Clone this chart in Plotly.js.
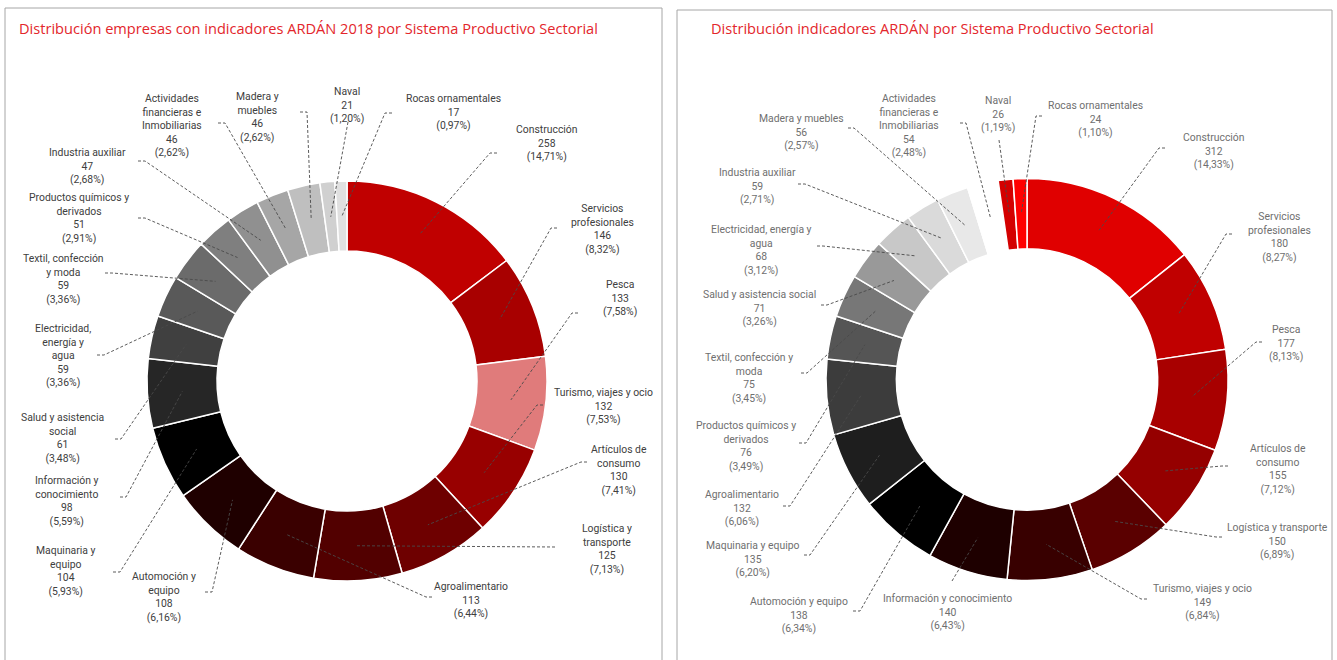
<!DOCTYPE html>
<html><head><meta charset="utf-8">
<script src="https://cdn.plot.ly/plotly-3.0.1.min.js"></script>
<style>html,body{margin:0;padding:0;background:#fff;} #chart{width:1337px;height:660px;}</style>
</head><body><div id="chart"></div>
<script>
// ---------------- DATA ----------------
const titleLeft = "Distribución empresas con indicadores ARDÁN 2018 por Sistema Productivo Sectorial";
const titleRight = "Distribución indicadores ARDÁN por Sistema Productivo Sectorial";

const sectorsLeft = ["Construcción","Servicios profesionales","Pesca","Turismo, viajes y ocio","Artículos de consumo","Logística y transporte","Agroalimentario","Automoción y equipo","Maquinaria y equipo","Información y conocimiento","Salud y asistencia social","Electricidad, energía y agua","Textil, confección y moda","Productos químicos y derivados","Industria auxiliar","Actividades financieras e Inmobiliarias","Madera y muebles","Naval","Rocas ornamentales"];
const valuesLeft = [258,146,133,132,130,125,113,108,104,98,61,59,59,51,47,46,46,21,17];
const labelTextLeft = ["Construcción","Servicios<br>profesionales","Pesca","Turismo, viajes y ocio","Artículos de<br>consumo","Logística y<br>transporte","Agroalimentario","Automoción y<br>equipo","Maquinaria y<br>equipo","Información y<br>conocimiento","Salud y asistencia<br>social","Electricidad,<br>energía y<br>agua","Textil, confección<br>y moda","Productos químicos y<br>derivados","Industria auxiliar","Actividades<br>financieras e<br>Inmobiliarias","Madera y<br>muebles","Naval","Rocas ornamentales"];

const sectorsRight = ["Construcción","Servicios profesionales","Pesca","Artículos de consumo","Logística y transporte","Turismo, viajes y ocio","Información y conocimiento","Automoción y equipo","Maquinaria y equipo","Agroalimentario","Productos químicos y derivados","Textil, confección y moda","Salud y asistencia social","Electricidad, energía y agua","Industria auxiliar","Madera y muebles","Actividades financieras e Inmobiliarias","Naval","Rocas ornamentales"];
const valuesRight = [312,180,177,155,150,149,140,138,135,132,76,75,71,68,59,56,54,26,24];
const labelTextRight = ["Construcción","Servicios<br>profesionales","Pesca","Artículos de<br>consumo","Logística y transporte","Turismo, viajes y ocio","Información y conocimiento","Automoción y equipo","Maquinaria y equipo","Agroalimentario","Productos químicos y<br>derivados","Textil, confección y<br>moda","Salud y asistencia social","Electricidad, energía y<br>agua","Industria auxiliar","Madera y muebles","Actividades<br>financieras e<br>Inmobiliarias","Naval","Rocas ornamentales"];

// ---------------- STYLE / LAYOUT ----------------
const colorsLeft = ["#c00000","#a80000","#e07b7b","#980000","#6e0000","#520000","#3a0000","#1f0000","#000000","#262626","#404040","#595959","#6b6b6b","#7f7f7f","#909090","#a6a6a6","#bfbfbf","#d0d0d0","#e0e0e0"];
const colorsRight = ["#e00000","#c00000","#a80000","#950000","#5a0000","#380000","#1e0000","#000000","#1e1e1e","#3c3c3c","#555555","#777777","#999999","#c8c8c8","#dadada","#e8e8e8","#ffffff","#d40000","#ff0000"];

// label block: [centerX, firstLineY] ; anchor: [x, y, horizontal segment length]
const labelPosLeft = [[547,128],[602,208],[620,283],[603,392],[619,448],[607,527],[471,585],[164,575],[66,549],[67,479],[63,416],[63,327],[63,257],[79,196],[87,151],[172,97],[257,95],[347,91],[453,98]];
const anchorLeft = [[497,153,7],[557,228,6],[578,313,6],[543,405,6],[587,462,6],[555,547,0],[432,597,6],[205,592,7],[113,572,7],[120,497,6],[115,439,6],[97,355,7],[105,273,7],[138,218,7],[138,161,7],[218,123,7],[300,112,7],[348,122,0],[392,113,7]];
const labelPosRight = [[1214,137],[1279,215],[1286,328],[1278,447],[1277,526],[1202,587],[948,597],[799,600],[753,544],[742,493],[746,424],[749,356],[759,293],[761,228],[757,171],[801,117],[909,98],[998,100],[1095,104]];
const anchorRight = [[1165,148,6],[1232,234,6],[1262,342,6],[1228,466,6],[1222,537,6],[1147,599,6],[952,581,0],[853,611,7],[804,555,6],[783,506,7],[799,443,7],[801,373,6],[821,305,6],[817,246,6],[798,184,7],[848,128,6],[960,123,6],[999,140,0],[1042,116,6]];

const W = 1337, H = 660, HOLE = 0.65;
const px = x => x / W, py = y => 1 - y / H;

function pct(v, tot){ return (v / tot * 100).toFixed(2).replace('.', ','); }

const data = [], shapes = [], annotations = [];

function addDonut(values, sectors, labelText, colors, labelPos, anchors, cx, cy, R, textColor){
  data.push({
    type: 'pie', values: values, labels: sectors, sort: false, direction: 'clockwise', rotation: 0,
    hole: HOLE, textinfo: 'none', showlegend: false,
    hovertemplate: '%{label}<br>%{value} (%{percent})<extra></extra>',
    marker: {colors: colors, line: {color: '#ffffff', width: 1.5}},
    domain: {x: [px(cx - R), px(cx + R)], y: [py(cy + R), py(cy - R)]}
  });
  const tot = values.reduce((a, b) => a + b, 0);
  const rm = R * (1 + HOLE) / 2;
  let cum = 0;
  values.forEach((v, i) => {
    const th = 2 * Math.PI * (cum + v / 2) / tot;
    cum += v;
    const tx = cx + rm * Math.sin(th), ty = cy - rm * Math.cos(th);
    const [ax, ay, hl] = anchors[i];
    const bx = ax + Math.sign(tx - ax) * hl;
    shapes.push({type: 'path', xref: 'paper', yref: 'paper',
      path: `M ${px(ax)},${py(ay)} L ${px(bx)},${py(ay)} L ${px(tx)},${py(ty)}`,
      line: {color: '#4a4a4a', width: 0.9, dash: '3px,2px'}});
    const [lx, ly] = labelPos[i];
    annotations.push({xref: 'paper', yref: 'paper', x: px(lx), y: py(ly - 7.5),
      xanchor: 'center', yanchor: 'top', align: 'center', showarrow: false,
      text: `${labelText[i]}<br>${v}<br>(${pct(v, tot)}%)`,
      font: {family: 'Roboto, Arial, sans-serif', size: 10.4, color: textColor}});
  });
}

addDonut(valuesLeft, sectorsLeft, labelTextLeft, colorsLeft, labelPosLeft, anchorLeft, 347, 381, 200, '#404040');
addDonut(valuesRight, sectorsRight, labelTextRight, colorsRight, labelPosRight, anchorRight, 1027, 379.5, 201, '#6f6f6f');

// panel frames
shapes.push({type: 'rect', xref: 'paper', yref: 'paper', x0: px(5), x1: px(662), y0: py(670), y1: py(8), line: {color: '#a6a6a6', width: 1}, layer: 'below'});
shapes.push({type: 'rect', xref: 'paper', yref: 'paper', x0: px(677), x1: px(1332), y0: py(670), y1: py(10), line: {color: '#a6a6a6', width: 1}, layer: 'below'});

// titles
annotations.push({xref: 'paper', yref: 'paper', x: px(17), y: py(28), xanchor: 'left', yanchor: 'middle', showarrow: false,
  text: titleLeft, font: {family: 'Open Sans, sans-serif', size: 14.6, color: '#e3262b'}});
annotations.push({xref: 'paper', yref: 'paper', x: px(709), y: py(28), xanchor: 'left', yanchor: 'middle', showarrow: false,
  text: titleRight, font: {family: 'Open Sans, sans-serif', size: 14.6, color: '#e3262b'}});

const layout = {width: W, height: H, margin: {l: 0, r: 0, t: 0, b: 0}, paper_bgcolor: '#ffffff', plot_bgcolor: '#ffffff',
  shapes: shapes, annotations: annotations, showlegend: false};

Plotly.newPlot('chart', data, layout, {displayModeBar: false, staticPlot: true});
</script>
</body></html>
